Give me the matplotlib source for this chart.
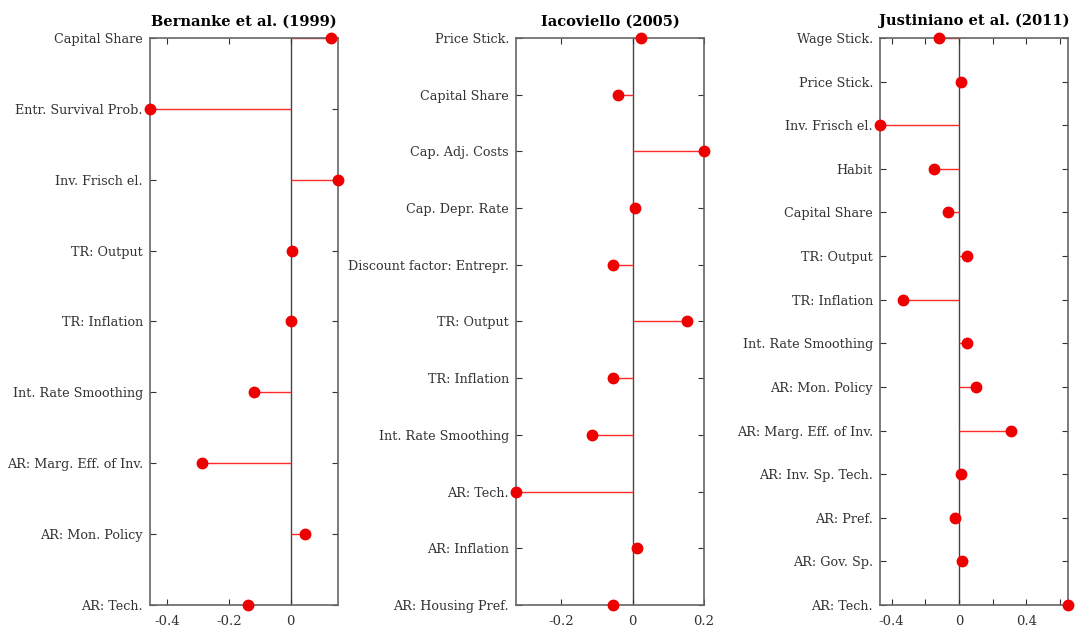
import matplotlib.pyplot as plt
import numpy as np

plt.rcParams['font.family'] = ['DejaVu Serif']

# Bernanke et al. (1999)
bgg_params = ['Capital Share', 'Entr. Survival Prob.', 'Inv. Frisch el.', 'TR: Output',
              'TR: Inflation', 'Int. Rate Smoothing', 'AR: Marg. Eff. of Inv.',
              'AR: Mon. Policy', 'AR: Tech.']
bgg_vals = [0.129, -0.455, 0.152, 0.003, 0.0, -0.120, -0.288, 0.046, -0.138]

# Iacoviello (2005)
iac_params = ['Price Stick.', 'Capital Share', 'Cap. Adj. Costs', 'Cap. Depr. Rate',
              'Discount factor: Entrepr.', 'TR: Output', 'TR: Inflation',
              'Int. Rate Smoothing', 'AR: Tech.', 'AR: Inflation', 'AR: Housing Pref.']
iac_vals = [0.023, -0.042, 0.200, 0.006, -0.054, 0.152, -0.056, -0.115, -0.327, 0.011, -0.054]

# Justiniano et al. (2011)
jpt_params = ['Wage Stick.', 'Price Stick.', 'Inv. Frisch el.', 'Habit', 'Capital Share',
              'TR: Output', 'TR: Inflation', 'Int. Rate Smoothing', 'AR: Mon. Policy',
              'AR: Marg. Eff. of Inv.', 'AR: Inv. Sp. Tech.', 'AR: Pref.', 'AR: Gov. Sp.',
              'AR: Tech.']
jpt_vals = [-0.119, 0.012, -0.469, -0.148, -0.065, 0.047, -0.332, 0.047, 0.100, 0.308,
            0.012, -0.022, 0.018, 0.647]

panels = [
    ('Bernanke et al. (1999)', bgg_params, bgg_vals, [-0.4, -0.2, 0], ['-0.4', '-0.2', '0']),
    ('Iacoviello (2005)', iac_params, iac_vals, [-0.2, 0, 0.2], ['-0.2', '0', '0.2']),
    ('Justiniano et al. (2011)', jpt_params, jpt_vals,
     [-0.4, -0.2, 0, 0.2, 0.4, 0.6], ['-0.4', '', '0', '', '0.4', '']),
]
lefts = [0.139, 0.4787, 0.8163]

fig = plt.figure(figsize=(10.78, 6.30), dpi=100)
for (title, names, vals, ticks, ticklabels), left in zip(panels, lefts):
    ax = fig.add_axes([left, 0.0397, 0.1744, 0.9])
    y = np.arange(len(names))
    ax.axvline(0, color='#444444', lw=1.0, zorder=1)
    ax.hlines(y, 0, vals, color='#ff2a2a', lw=1.0, zorder=2)
    ax.plot(vals, y, 'o', color='#ee0000', ms=7.5, clip_on=False, zorder=3)
    ax.set_xlim(min(vals), max(vals))
    ax.set_ylim(len(names) - 1, 0)
    ax.set_yticks(y)
    ax.set_yticklabels(names)
    ax.set_xticks(ticks)
    ax.set_xticklabels(ticklabels)
    ax.tick_params(direction='in', top=True, right=True, length=4, width=0.8,
                   colors='#333333', labelsize=9.2)
    ax.tick_params(axis='y', pad=5)
    ax.tick_params(axis='x', pad=7, labelsize=9.5)
    for s in ax.spines.values():
        s.set_color('#666666')
        s.set_linewidth(1.2)
    ax.set_title(title, fontsize=10.5, fontweight='bold', pad=9)

fig.savefig('out.png', dpi=100)
